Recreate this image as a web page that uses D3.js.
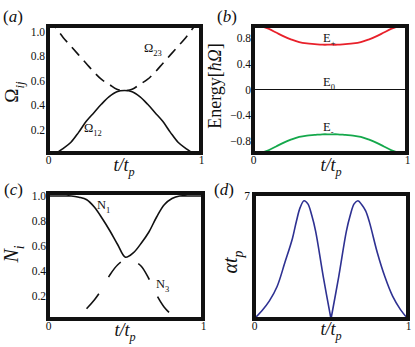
<!DOCTYPE html>
<html>
<head>
<meta charset="utf-8">
<script src="https://cdn.jsdelivr.net/npm/d3@7"></script>
<style>
body { margin: 0; background: #fff; }
svg text { font-family: "Liberation Serif", "DejaVu Serif", serif; fill: #111; }
</style>
</head>
<body>
<div id="chart"></div>
<script>
// values, t in units of t_p
const tSteps = [0, 0.05, 0.1, 0.15, 0.2, 0.25, 0.3, 0.35, 0.4, 0.45, 0.5, 0.55, 0.6, 0.65, 0.7, 0.75, 0.8, 0.85, 0.9, 0.95, 1];
const omega12 = [0, 0.01, 0.05, 0.10, 0.18, 0.27, 0.34, 0.41, 0.47, 0.51, 0.52, 0.51, 0.47, 0.41, 0.34, 0.27, 0.18, 0.10, 0.05, 0.01, 0];
const omega23 = [1.09, 1.03, 0.95, 0.88, 0.81, 0.74, 0.67, 0.61, 0.57, 0.53, 0.52, 0.53, 0.57, 0.61, 0.67, 0.74, 0.81, 0.88, 0.95, 1.03, 1.09];
const ePlus = [1.0, 0.99, 0.95, 0.89, 0.83, 0.78, 0.74, 0.72, 0.71, 0.70, 0.70, 0.70, 0.71, 0.72, 0.74, 0.78, 0.83, 0.89, 0.95, 0.99, 1.0];
const eMinus = [-1.0, -0.99, -0.95, -0.89, -0.83, -0.78, -0.74, -0.72, -0.71, -0.70, -0.70, -0.70, -0.71, -0.72, -0.74, -0.78, -0.83, -0.89, -0.95, -0.99, -1.0];
const tEnds = [0, 1];
const eZero = [0, 0];
const n1 = [1, 1, 1, 1, 0.99, 0.97, 0.91, 0.82, 0.72, 0.61, 0.51, 0.545, 0.62, 0.71, 0.83, 0.93, 0.98, 1, 1, 1, 1];
const n3 = [0, 0, 0, 0.01, 0.04, 0.10, 0.17, 0.26, 0.37, 0.45, 0.49, 0.48, 0.44, 0.34, 0.21, 0.11, 0.05, 0.02, 0, 0, 0];
const tAlpha = [0, 0.05, 0.1, 0.15, 0.2, 0.25, 0.275, 0.3, 0.325, 0.35, 0.375, 0.4, 0.45, 0.5,
    0.55, 0.6, 0.625, 0.65, 0.675, 0.7, 0.725, 0.75, 0.8, 0.85, 0.9, 0.95, 1];
const alphaTp = [0, 0.45, 1.03, 1.85, 3.2, 4.6, 5.55, 6.35, 6.73, 6.55, 5.9, 5.0, 2.4, 0,
    2.4, 5.0, 5.9, 6.55, 6.73, 6.5, 6.15, 5.5, 3.8, 2.4, 1.3, 0.55, 0];

const xTicks = [0, 1];
const ticksA = [0.2, 0.4, 0.6, 0.8, 1.0];
const ticksB = [0.8, 0.4, 0, -0.4, -0.8];
const ticksC = [0.2, 0.4, 0.6, 0.8, 1.0];
const ticksD = [7];

let width = 415, height = 347;

const svg = d3.select("#chart").append("svg")
    .attr("width", width)
    .attr("height", height);

function fmtTick(d) {
    if (d === 0) return "0";
    return d3.format(".1f")(d);
}

// text with italic pieces and subscripts
function mathText(sel, x, y, parts, size, anchor, rot) {
    const t = sel.append("text")
        .attr("font-size", size)
        .attr("text-anchor", anchor || "start");
    if (rot) t.attr("transform", `translate(${x},${y}) rotate(-90)`);
    else t.attr("x", x).attr("y", y);
    let shift = 0;
    parts.forEach((p) => {
        const s = t.append("tspan").text(p.t);
        if (p.it) s.attr("font-style", "italic");
        const want = p.sub ? size * 0.3 : 0;
        if (want !== shift) {
            s.attr("dy", want - shift);
            shift = want;
        }
        if (p.sub) s.attr("font-size", size * 0.68);
    });
    return t;
}

let clipId = 0;
function panel(box, yDomain, yRange, yTicks, yPad, yFmt) {
    const [x0, x1, y0, y1] = box;
    const g = svg.append("g");
    const x = d3.scaleLinear().domain([0, 1]).range([x0, x1]);
    const y = d3.scaleLinear().domain(yDomain).range(yRange);

    g.append("g")
        .attr("transform", `translate(0,${y1})`)
        .call(d3.axisBottom(x).tickValues(xTicks).tickSize(0).tickPadding(3).tickFormat(d3.format("d")))
        .call((a) => a.select(".domain").remove())
        .selectAll("text")
        .attr("font-size", 11.5)
        .style("font-family", "'Liberation Serif', serif")
        .attr("fill", "#222");

    g.append("g")
        .attr("transform", `translate(${x0},0)`)
        .call(d3.axisLeft(y).tickValues(yTicks).tickSize(0).tickPadding(yPad).tickFormat(yFmt))
        .call((a) => a.select(".domain").remove())
        .selectAll("text")
        .attr("font-size", 11.5)
        .style("font-family", "'Liberation Serif', serif")
        .attr("fill", "#222");

    const id = "clip" + clipId++;
    svg.append("clipPath").attr("id", id)
        .append("rect")
        .attr("x", x0).attr("y", y0)
        .attr("width", x1 - x0).attr("height", y1 - y0);

    const plot = g.append("g").attr("clip-path", `url(#${id})`);
    return { g, plot, x, y, box };
}

function curve(p, ts, vs, color, w, dash, offset) {
    const line = d3.line()
        .x((d, i) => p.x(ts[i]))
        .y((d) => p.y(d))
        .curve(d3.curveCatmullRom.alpha(0.5));
    const path = p.plot.append("path")
        .datum(vs)
        .attr("d", line)
        .attr("fill", "none")
        .attr("stroke", color)
        .attr("stroke-width", w);
    if (dash) path.attr("stroke-dasharray", dash).attr("stroke-dashoffset", offset || 0);
    return path;
}

function frame(p) {
    const [x0, x1, y0, y1] = p.box;
    p.g.append("rect")
        .attr("x", x0).attr("y", y0)
        .attr("width", x1 - x0).attr("height", y1 - y0)
        .attr("fill", "none")
        .attr("stroke", "#111")
        .attr("stroke-width", 4);
}

// (a)
const pa = panel([48, 201, 26, 153], [0, 1], [154.5, 31.5], ticksA, 3, d3.format(".1f"));
curve(pa, tSteps, omega23, "#111", 1.6, "11,7", 0);
curve(pa, tSteps, omega12, "#111", 1.6);
frame(pa);
mathText(svg, 144, 52, [{ t: "Ω" }, { t: "23", sub: true }], 12.5);
mathText(svg, 84, 132, [{ t: "Ω" }, { t: "12", sub: true }], 12.5);
mathText(svg, 18, 92, [{ t: "Ω" }, { t: "ij", it: true, sub: true }], 19, "middle", true);
mathText(svg, 124, 171, [{ t: "t/t", it: true }, { t: "p", it: true, sub: true }], 18, "middle");
mathText(svg, 3, 22, [{ t: "(" }, { t: "a", it: true }, { t: ")" }], 17);

// (b)
const pb = panel([253, 407, 26, 153], [-1, 1], [153.5, 25.5], ticksB, 2, fmtTick);
curve(pb, tEnds, eZero, "#111", 1.2);
curve(pb, tSteps, ePlus, "#e8202a", 1.8);
curve(pb, tSteps, eMinus, "#14a84b", 1.8);
frame(pb);
mathText(svg, 323, 42, [{ t: "E" }, { t: "+", sub: true }], 12.5);
mathText(svg, 323, 86, [{ t: "E" }, { t: "0", sub: true }], 12.5);
mathText(svg, 323, 131, [{ t: "E" }, { t: "-", sub: true }], 12.5);
mathText(svg, 221, 86, [{ t: "Energy" }, { t: "[" }, { t: "ħΩ", it: true }, { t: "]" }], 18, "middle", true);
mathText(svg, 331, 171, [{ t: "t/t", it: true }, { t: "p", it: true, sub: true }], 18, "middle");
mathText(svg, 217, 22, [{ t: "(" }, { t: "b", it: true }, { t: ")" }], 17);

// (c)
const pc = panel([48, 203, 193, 319], [0, 1], [321, 196], ticksC, 2, d3.format(".1f"));
curve(pc, tSteps, n3, "#111", 1.6, "19.5,19", -4);
curve(pc, tSteps, n1, "#111", 1.6);
frame(pc);
mathText(svg, 97, 209, [{ t: "N" }, { t: "1", sub: true }], 12.5);
mathText(svg, 156, 288, [{ t: "N" }, { t: "3", sub: true }], 12.5);
mathText(svg, 18, 254, [{ t: "N", it: true }, { t: "i", it: true, sub: true }], 20, "middle", true);
mathText(svg, 125, 336, [{ t: "t/t", it: true }, { t: "p", it: true, sub: true }], 18, "middle");
mathText(svg, 4, 195, [{ t: "(" }, { t: "c", it: true }, { t: ")" }], 17);

// (d) - two halves so the cusp at t/tp = 0.5 stays sharp
const pd = panel([254, 408, 194, 319], [0, 7], [319, 196], ticksD, 4, d3.format("d"));
const mid = tAlpha.indexOf(0.5);
curve(pd, tAlpha.slice(0, mid + 1), alphaTp.slice(0, mid + 1), "#2e3192", 1.6);
curve(pd, tAlpha.slice(mid), alphaTp.slice(mid), "#2e3192", 1.6);
frame(pd);
mathText(svg, 237, 262, [{ t: "αt", it: true }, { t: "p", it: true, sub: true }], 20, "middle", true);
mathText(svg, 331, 335, [{ t: "t/t", it: true }, { t: "p", it: true, sub: true }], 18, "middle");
mathText(svg, 214, 195, [{ t: "(" }, { t: "d", it: true }, { t: ")" }], 17);
</script>
</body>
</html>
